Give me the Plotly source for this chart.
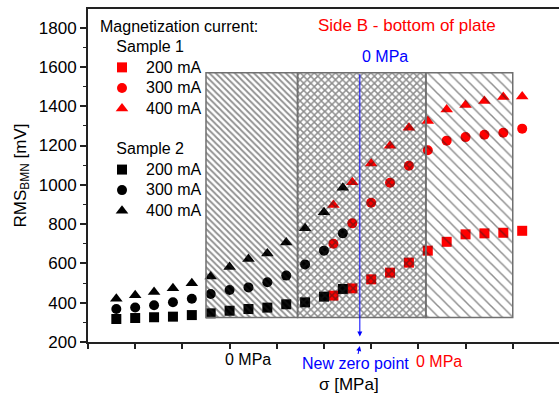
import plotly.graph_objects as go

# ---- data ----
black_x = [30, 50, 70, 90, 110, 130, 150, 170, 190, 210, 230, 250, 270]
black_200 = [317, 322, 326, 329, 337, 346, 359, 368, 375, 392, 402, 431, 470]
black_300 = [368, 376, 387, 402, 420, 444, 465, 478, 504, 538, 595, 665, 753]
black_400 = [420, 438, 454, 473, 499, 534, 582, 622, 651, 707, 779, 860, 985]

red_x = [260, 280, 300, 320, 340, 360, 380, 400, 420, 440, 460]
red_200 = [436, 473, 519, 553, 604, 665, 710, 748, 753, 756, 766]
red_300 = [700, 804, 909, 1011, 1097, 1176, 1225, 1243, 1255, 1265, 1286]
red_400 = [897, 1013, 1109, 1199, 1291, 1325, 1384, 1406, 1427, 1447, 1450]

region_edges = [125, 222, 358, 450]
region_bottom = 325
region_top = 1570
region_patterns = ["\\", "x", "\\"]
region_sizes = [4.5, 5, 7.5]
region_solidity = [0.4, 0.5, 0.2]

new_zero_x = 288
black_zero_x = 170
red_zero_x = 372

FONT = "Liberation Sans, Arial, sans-serif"


def big(t, size=16):
    return '<span style="font-size:%dpx">%s</span>' % (size, t)


fig = go.Figure()

series = [
    ("Sample 1", "red", red_x, [("200 mA", red_200, "square"), ("300 mA", red_300, "circle"), ("400 mA", red_400, "triangle-up")]),
    ("Sample 2", "black", black_x, [("200 mA", black_200, "square"), ("300 mA", black_300, "circle"), ("400 mA", black_400, "triangle-up")]),
]
for group, color, xs, items in series:
    for name, ys, sym in items:
        fig.add_trace(go.Scatter(
            x=xs, y=ys, mode="markers", name=big(name),
            legendgroup=group,
            legendgrouptitle=dict(text=big("\u00a0\u00a0\u00a0" + group),
                                  font=dict(size=13.5, color="black", family=FONT)),
            marker=dict(symbol=sym, color=color, size=10 if sym != "triangle-up" else 11),
        ))

# hatched regions drawn on an overlaid subplot so that they lie above the markers
for i in range(3):
    a, b = region_edges[i], region_edges[i + 1]
    fig.add_trace(go.Bar(
        x=[(a + b) / 2], y=[region_top - region_bottom], base=[region_bottom],
        width=[b - a], xaxis="x2", yaxis="y2", showlegend=False, hoverinfo="skip",
        marker=dict(
            color="rgba(0,0,0,0)",
            line=dict(color="#707070", width=1.5),
            pattern=dict(shape=region_patterns[i], fgcolor="#1e1e1e", bgcolor="rgba(0,0,0,0)",
                         size=region_sizes[i], solidity=region_solidity[i], fillmode="overlay"),
        ),
    ))

xr = [0, 499]
yr = [200, 1895]
fig.update_layout(
    width=559, height=399,
    margin=dict(l=88, r=0, t=9, b=57),
    paper_bgcolor="white", plot_bgcolor="white",
    font=dict(family=FONT, size=16, color="black"),
    showlegend=True,
    legend=dict(
        x=(98 - 88) / 471, y=0.985, xanchor="left", yanchor="top",
        title=dict(text=big("Magnetization current:"), font=dict(size=13.5)),
        font=dict(size=13.5), traceorder="grouped", tracegroupgap=20,
        itemwidth=38,
        bgcolor="rgba(0,0,0,0)", borderwidth=0,
    ),
    xaxis=dict(
        range=xr, showgrid=False, zeroline=False, showline=True, mirror=True,
        linecolor="#222", linewidth=2, ticks="outside", ticklen=5, tickwidth=1.5,
        tickcolor="#222", tick0=0, dtick=50, showticklabels=False,
    ),
    yaxis=dict(
        range=yr, showgrid=False, zeroline=False, showline=True,
        linecolor="#222", linewidth=2, ticks="outside", ticklen=6, tickwidth=1.5,
        tickcolor="#222", tick0=200, dtick=200, tickfont=dict(size=17),
        minor=dict(ticks="outside", ticklen=3, dtick=100, tickcolor="#222", tickwidth=1.2),
        title=dict(text="RMS<sub>BMN</sub> [mV]", font=dict(size=17), standoff=8),
    ),
    xaxis2=dict(overlaying="x", matches="x", range=xr, visible=False),
    yaxis2=dict(overlaying="y", matches="y", range=yr, visible=False),
    barmode="overlay",
)

fig.add_annotation(text="Side B - bottom of plate", xref="paper", yref="paper",
                   x=(407 - 88) / 471, y=(342 - 26) / 333, xanchor="center", yanchor="middle",
                   showarrow=False, font=dict(size=17, color="#ff0000"))
fig.add_annotation(text="0 MPa", xref="x", yref="paper", x=new_zero_x, y=(342 - 56) / 333,
                   xanchor="left", yanchor="middle", showarrow=False,
                   font=dict(size=16, color="#0000ff"))
fig.add_annotation(text="0 MPa", xref="x", yref="paper", x=black_zero_x, y=(342 - 360) / 333,
                   xanchor="center", yanchor="middle", showarrow=False,
                   font=dict(size=16, color="black"))
fig.add_annotation(text="0 MPa", xref="x", yref="paper", x=red_zero_x, y=(342 - 361) / 333,
                   xanchor="center", yanchor="middle", showarrow=False,
                   font=dict(size=16, color="#ff0000"))
fig.add_annotation(text="σ [MPa]", xref="x", yref="paper", x=276, y=(342 - 384) / 333,
                   xanchor="center", yanchor="middle", showarrow=False,
                   font=dict(size=17, color="black"))
# blue zero-point line with arrow pointing down to the axis
fig.add_annotation(text="", xref="x", yref="y", x=new_zero_x, y=228,
                   axref="x", ayref="y", ax=new_zero_x, ay=region_top,
                   showarrow=True, arrowhead=2, arrowsize=1, arrowwidth=1, arrowcolor="#0000ff")
fig.add_annotation(text="New zero point", xref="x", yref="paper", x=new_zero_x, y=-0.012,
                   ax=-4, ay=18, showarrow=True, arrowhead=2, arrowsize=1, arrowwidth=1,
                   arrowcolor="#0000ff", font=dict(size=16, color="#0000ff"))

fig.write_html("out.html")
